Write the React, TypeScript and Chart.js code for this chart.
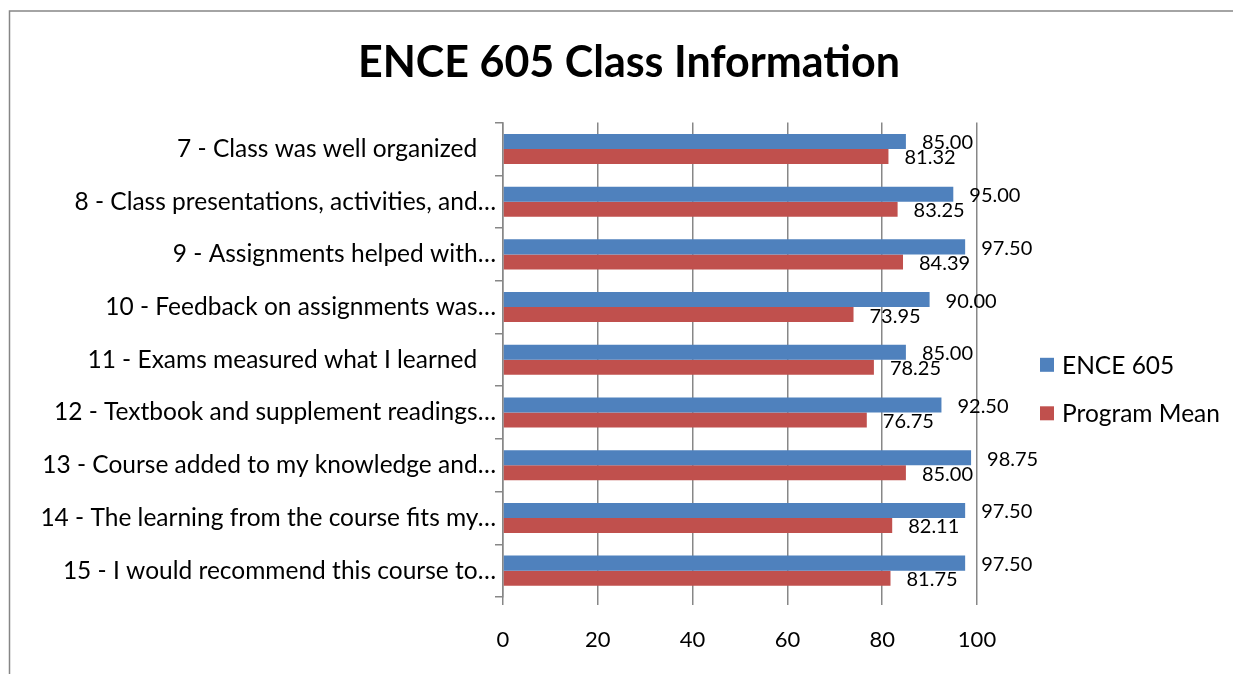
import React, { useEffect, useRef } from "react";
import { Chart, registerables } from "chart.js";

Chart.register(...registerables);

const chartTitle = "ENCE 605 Class Information";
const categories = [
  "7 - Class was well organized   ",
  "8 - Class presentations, activities, and…",
  "9 - Assignments helped with…",
  "10 - Feedback on assignments was…",
  "11 - Exams measured what I learned   ",
  "12 - Textbook and supplement readings…",
  "13 - Course added to my knowledge and…",
  "14 - The learning from the course fits my…",
  "15 - I would recommend this course to…",
];
const seriesNames = ["ENCE 605", "Program Mean"];
const ence605 = [85.0, 95.0, 97.5, 90.0, 85.0, 92.5, 98.75, 97.5, 97.5];
const programMean = [81.32, 83.25, 84.39, 73.95, 78.25, 76.75, 85.0, 82.11, 81.75];
const xTicks = [0, 20, 40, 60, 80, 100];
const seriesColors = ["#4F81BD", "#C0504D"];

const W = 1258;
const H = 700;
const FONT = "Lato, 'Open Sans', sans-serif";
const GRID = "#878787";

const framePlugin = {
  id: "frame",
  beforeDraw(chart: any) {
    const ctx = chart.ctx;
    ctx.save();
    ctx.fillStyle = "#ffffff";
    ctx.fillRect(0, 0, chart.width, chart.height);
    ctx.strokeStyle = "#868686";
    ctx.lineWidth = 1.5;
    ctx.strokeRect(9.5, 11, chart.width - 19, chart.height + 20);
    ctx.restore();
  },
};

const dataLabelPlugin = {
  id: "dataLabels",
  afterDatasetsDraw(chart: any) {
    const ctx = chart.ctx;
    ctx.save();
    ctx.font = `20px ${FONT}`;
    ctx.fillStyle = "#000000";
    ctx.textAlign = "left";
    ctx.textBaseline = "middle";
    chart.data.datasets.forEach((ds: any, i: number) => {
      const meta = chart.getDatasetMeta(i);
      meta.data.forEach((el: any, j: number) => {
        const v = ds.data[j] as number;
        ctx.fillText(v.toFixed(2), el.x + 16, el.y + 1.5);
      });
    });
    ctx.restore();
  },
};

const legendPlugin = {
  id: "customLegend",
  afterDraw(chart: any) {
    const ctx = chart.ctx;
    const area = chart.chartArea;
    const x = area.right + 63;
    const y0 = (area.top + area.bottom) / 2 + 5;
    ctx.save();
    ctx.font = `24.5px ${FONT}`;
    ctx.textAlign = "left";
    ctx.textBaseline = "middle";
    chart.data.datasets.forEach((ds: any, i: number) => {
      const cy = y0 + i * 48.5;
      ctx.fillStyle = ds.backgroundColor;
      ctx.fillRect(x, cy - 7, 14, 14);
      ctx.fillStyle = "#000000";
      ctx.fillText(ds.label, x + 22, cy + 1);
    });
    ctx.restore();
  },
};

export default function App() {
  const ref = useRef<HTMLCanvasElement | null>(null);

  useEffect(() => {
    if (!ref.current) return;
    const chart = new Chart(ref.current, {
      type: "bar",
      data: {
        labels: categories,
        datasets: [
          {
            label: seriesNames[0],
            data: ence605,
            backgroundColor: seriesColors[0],
            categoryPercentage: 0.57,
            barPercentage: 1,
          },
          {
            label: seriesNames[1],
            data: programMean,
            backgroundColor: seriesColors[1],
            categoryPercentage: 0.57,
            barPercentage: 1,
          },
        ],
      },
      options: {
        indexAxis: "y",
        responsive: false,
        animation: false,
        layout: { padding: 0 },
        plugins: {
          legend: { display: false },
          tooltip: { enabled: false },
          title: {
            display: true,
            text: chartTitle,
            color: "#000000",
            font: { family: FONT, size: 43, weight: "bold", lineHeight: 1.2 },
            padding: { top: 37, bottom: 34 },
          },
        },
        scales: {
          x: {
            type: "linear",
            position: "bottom",
            min: 0,
            max: 100,
            afterBuildTicks: (s: any) => {
              s.ticks = xTicks.map((v) => ({ value: v }));
            },
            afterFit: (s: any) => {
              s.height = 103;
            },
            grid: {
              color: GRID,
              lineWidth: 1.5,
              drawTicks: true,
              tickLength: 8,
              tickColor: GRID,
            },
            border: { display: false },
            ticks: {
              color: "#000000",
              font: { family: FONT, size: 22 },
              padding: 22,
              maxRotation: 0,
            },
          },
          y: {
            type: "category",
            position: "left",
            afterFit: (s: any) => {
              s.width = 503;
            },
            grid: {
              display: true,
              drawOnChartArea: false,
              drawTicks: true,
              tickLength: 8,
              color: GRID,
              lineWidth: 1.5,
            },
            border: { display: true, color: GRID, width: 1.5 },
            ticks: {
              color: "#000000",
              font: { family: FONT, size: 24.5 },
              padding: -1,
              autoSkip: false,
            },
          },
          yR: {
            type: "linear",
            position: "right",
            display: true,
            afterFit: (s: any) => {
              s.width = 281;
            },
            grid: { display: false },
            border: { display: false },
            ticks: { display: false },
          },
        },
      } as any,
      plugins: [framePlugin, dataLabelPlugin, legendPlugin],
    });
    return () => chart.destroy();
  }, []);

  return (
    <div
      style={{
        position: "fixed",
        left: 0,
        top: 0,
        width: 1233,
        height: 674,
        overflow: "hidden",
        background: "#ffffff",
      }}
    >
      <canvas ref={ref} width={W} height={H} style={{ display: "block", width: W, height: H }} />
    </div>
  );
}
